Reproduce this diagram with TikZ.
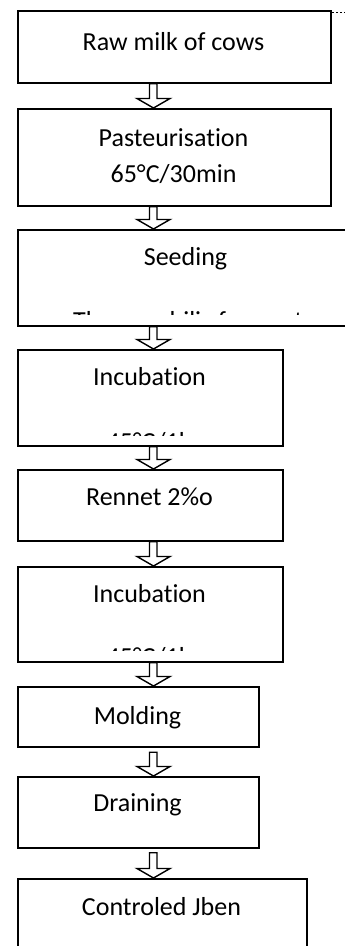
\documentclass[tikz,border=0pt]{standalone}
\usepackage{fontspec}
\setmainfont{Carlito}[Ligatures=NoCommon]
\usetikzlibrary{calc}
\newcommand\blockarrow[3]{%
  \draw[blockarr] let \p1=(#1.south), \p2=(#2.north) in
    (149.5pt,\y1-#3pt) -- (149.5pt,\y2+9.5pt) -- (137pt,\y2+9.5pt) -- (153.5pt,\y2)
    -- (170pt,\y2+9.5pt) -- (157pt,\y2+9.5pt) -- (157pt,\y1-#3pt) -- cycle;}
\begin{document}
\begin{tikzpicture}[x=1pt,y=-1pt,
  boxst/.style={draw=black,line width=1.7pt,fill=white,inner sep=0pt,anchor=north west},
  txt/.style={font=\fontsize{26}{31}\selectfont,inner sep=0pt,anchor=base},
  blockarr/.style={draw=black,line width=1.4pt,fill=white,line join=miter}]
\useasboundingbox (0,0) rectangle (345,946);
\clip (0,0) rectangle (345,946);
\draw[line width=0.6pt,dash pattern=on 2pt off 2pt] (332,12.5) -- (345,12.5);
% boxes
\node[boxst,minimum width=313pt,minimum height=72pt] (b1) at (17,10) {};
\node[boxst,minimum width=313pt,minimum height=97pt] (b2) at (17,108) {};
\node[boxst,minimum width=336pt,minimum height=96pt] (b3) at (17,229) {};
\node[boxst,minimum width=265pt,minimum height=96pt] (b4) at (17,349) {};
\node[boxst,minimum width=265pt,minimum height=71pt] (b5) at (17,469) {};
\node[boxst,minimum width=265pt,minimum height=95pt] (b6) at (17,566) {};
\node[boxst,minimum width=241pt,minimum height=60pt] (b7) at (17,686) {};
\node[boxst,minimum width=241pt,minimum height=71pt] (b8) at (17,776) {};
\node[boxst,minimum width=289pt,minimum height=80pt] (b9) at (17,878) {};
% texts
\node[txt] (t1) at (173.5,50) {Raw milk of cows};
\node[txt] (t2) at (173.5,146.7) {Pasteurisation};
\node[txt] (t2b) at (173.5,182.7) {65°C/30min};
\node[txt] (t3) at (185.5,265) {Seeding};
\begin{scope}
  \clip (17,300) rectangle (345,314.5);
  \node[txt,anchor=base west] (t3b) at (73,329.5) {Thermophilic ferment};
\end{scope}
\node[txt] (t4) at (149.5,385.7) {Incubation};
\begin{scope}
  \clip (17,420) rectangle (282,435);
  \node[txt] (t4b) at (149.5,450) {45°C/1h};
\end{scope}
\node[txt] (t5) at (149.5,505.7) {Rennet 2\%o};
\node[txt] (t6) at (149.5,602) {Incubation};
\begin{scope}
  \clip (17,635) rectangle (282,650);
  \node[txt] (t6b) at (149.5,665) {45°C/1h};
\end{scope}
\node[txt] (t7) at (137.5,724) {Molding};
\node[txt] (t8) at (137.5,811.7) {Draining};
\node[txt] (t9) at (161.5,915) {Controled Jben};
% arrows
\blockarrow{b1}{b2}{0}
\blockarrow{b2}{b3}{0}
\blockarrow{b3}{b4}{0}
\blockarrow{b4}{b5}{0}
\blockarrow{b5}{b6}{0}
\blockarrow{b6}{b7}{0}
\blockarrow{b7}{b8}{4.5}
\blockarrow{b8}{b9}{4}
\end{tikzpicture}
\end{document}
